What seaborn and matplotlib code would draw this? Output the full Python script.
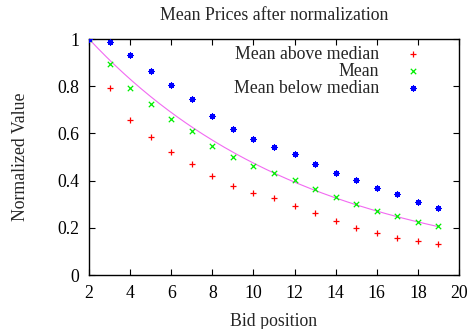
import numpy as np
import pandas as pd
import matplotlib
matplotlib.use("Agg")
import matplotlib.pyplot as plt
import seaborn as sns

# ---- data ----
bid_position = [2, 3, 4, 5, 6, 7, 8, 9, 10, 11, 12, 13, 14, 15, 16, 17, 18, 19]
mean_above_median = [1.0, 0.794, 0.655, 0.585, 0.521, 0.469, 0.419, 0.378, 0.346,
                     0.326, 0.292, 0.261, 0.229, 0.200, 0.178, 0.157, 0.143, 0.130]
mean_all = [1.0, 0.893, 0.794, 0.726, 0.662, 0.609, 0.547, 0.499, 0.462,
            0.433, 0.403, 0.364, 0.329, 0.302, 0.272, 0.250, 0.226, 0.208]
mean_below_median = [1.0, 0.989, 0.932, 0.866, 0.805, 0.746, 0.674, 0.619, 0.578,
                     0.541, 0.511, 0.469, 0.431, 0.401, 0.367, 0.342, 0.309, 0.285]
labels = ["Mean above median", "Mean", "Mean below median"]
x_ticks = [2, 4, 6, 8, 10, 12, 14, 16, 18, 20]
y_ticks = [0, 0.2, 0.4, 0.6, 0.8, 1]
y_tick_labels = ["0", "0.2", "0.4", "0.6", "0.8", "1"]

sns.set_style("ticks")
plt.rcParams["font.family"] = ["Liberation Serif", "DejaVu Serif"]

fig = plt.figure(figsize=(4.71, 3.29), dpi=100)
ax = fig.add_axes([89 / 471, 1 - 275 / 329, 370 / 471, 236 / 329])

x = np.array(bid_position, dtype=float)
df = pd.DataFrame({"x": bid_position, "above": mean_above_median,
                   "mean": mean_all, "below": mean_below_median})

# exponential fit of the Mean series anchored at the first point
xm = x - x[0]
k = -np.sum(xm * np.log(np.array(mean_all))) / np.sum(xm ** 2)
xf = np.linspace(x[0], x[-1], 200)
fit = pd.DataFrame({"x": xf, "y": np.exp(-k * (xf - x[0]))})
sns.lineplot(data=fit, x="x", y="y", ax=ax, color="#ee44ee", lw=0.8, alpha=0.8,
             legend=False, zorder=1)

fs = 12.8
sns.scatterplot(data=df, x="x", y="above", ax=ax, marker="+", color="#ff0000",
                s=20, linewidth=0.9, label=labels[0], zorder=3)
sns.scatterplot(data=df, x="x", y="mean", ax=ax, marker="x", color="#00ee00",
                s=15, linewidth=0.9, label=labels[1], zorder=3)
sns.scatterplot(data=df, x="x", y="below", ax=ax, marker=(8, 2, 0), color="#0000ff",
                s=14, linewidth=0.9, label=labels[2], zorder=3)

ax.set_xlim(2, 20)
ax.set_ylim(0, 1)
ax.set_xticks(x_ticks)
ax.set_xticklabels([str(t) for t in x_ticks])
ax.set_yticks(y_ticks)
ax.set_yticklabels(y_tick_labels)
ax.tick_params(direction="in", length=4, width=0.8, top=True, right=True,
               labelsize=fs, pad=7, colors="black")
for s in ax.spines.values():
    s.set_visible(True)
    s.set_linewidth(1.0)
    s.set_color("black")

ax.set_xlabel("Bid position", fontsize=fs, labelpad=8)
ax.set_ylabel("Normalized Value", fontsize=fs, labelpad=20)
ax.set_title("Mean Prices after normalization", fontsize=fs, pad=14)

ax.legend(loc="upper right", bbox_to_anchor=(0.911, 0.972), frameon=False,
          markerfirst=False, handlelength=1.5, handletextpad=1.15,
          borderaxespad=0, borderpad=0, labelspacing=0.0, fontsize=fs)

fig.savefig("out.png", dpi=100)
